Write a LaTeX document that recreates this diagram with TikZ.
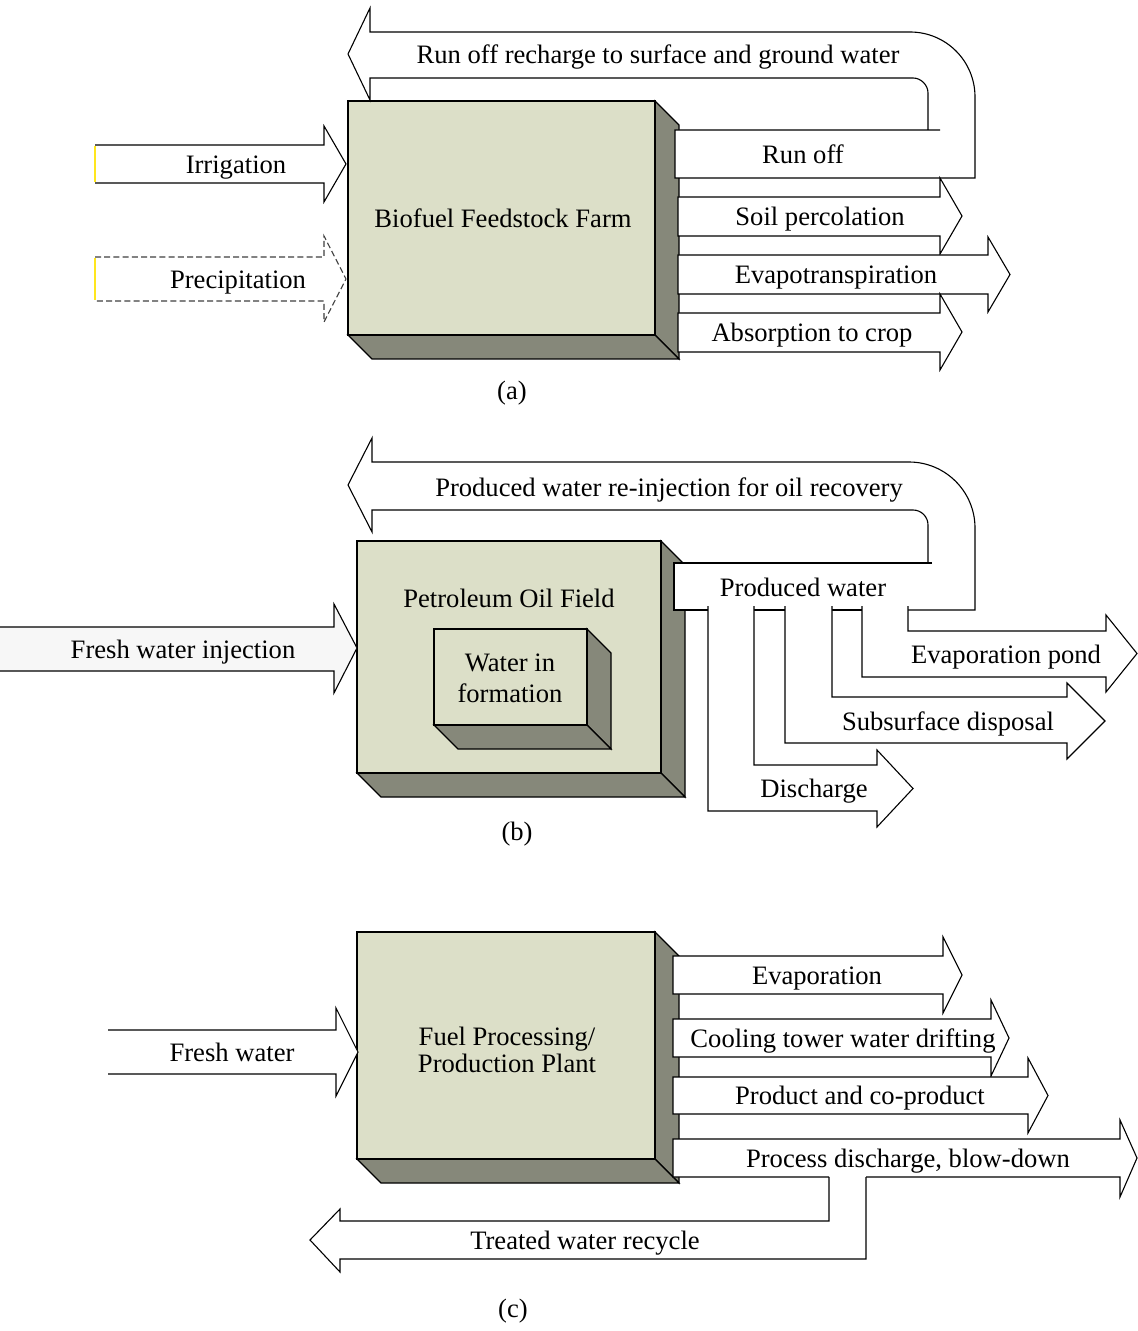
\documentclass[tikz,border=0pt]{standalone}
\usepackage{fontspec}
\setmainfont{Liberation Serif}
\definecolor{boxfront}{RGB}{220,223,200}
\definecolor{boxdark}{RGB}{134,136,122}
\definecolor{edgeyel}{RGB}{255,230,30}
\newcommand{\lblfont}{\fontsize{13.3}{15.5}\selectfont}
\tikzset{
  frontface/.style={fill=boxfront, draw=black, line width=0.6pt, line join=miter},
  darkface/.style={fill=boxdark, draw=black, line width=0.6pt, line join=miter},
  flowline/.style={draw=black, line width=0.55pt, line join=miter},
  flowfill/.style={fill=white},
  lbl/.style={inner sep=0pt, font=\lblfont, text height=0.69em, text depth=0.22em, yshift=-2.3pt},
}
% solid box: front x1,y1,x2,y2 ; depth 24
\newcommand{\solidbox}[5]{%
  \filldraw[darkface] (#3,#2) -- ({#3+24},{#2+24}) -- ({#3+24},{#4+24}) -- (#3,#4) -- cycle;
  \filldraw[darkface] (#1,#4) -- ({#1+24},{#4+24}) -- ({#3+24},{#4+24}) -- (#3,#4) -- cycle;
  \filldraw[#5] (#1,#2) rectangle (#3,#4);}
% closed right block arrow: left, base, tip, bodytop, bodybot, headtop, headbot
\newcommand{\rarrowC}[7]{%
  \filldraw[flowfill, flowline] (#1,#4) -- (#2,#4) -- (#2,#6) -- (#3,{(#6+#7)/2}) -- (#2,#7) -- (#2,#5) -- (#1,#5) -- cycle;}
\begin{document}
\begin{tikzpicture}[x=0.5pt,y=-0.5pt]
\useasboundingbox (0,0) rectangle (1138,1331);
\fill[white] (0,0) rectangle (1138,1331);

% ================= (a) =================
\solidbox{348}{101}{655}{335}{frontface}
\node[lbl] (farm) at (503,218) {Biofuel Feedstock Farm};

% U-turn arrow and run off
\fill[white] (975,178) -- (975,97) .. controls (975,61) and (946,32) .. (910,32) -- (370,32) -- (370,8) -- (348,54) -- (370,100) -- (370,78) -- (913,78) .. controls (921,78) and (928,85) .. (928,93) -- (928,130) -- (675,130) -- (675,178) -- cycle;
\draw[flowline] (928,130) -- (928,93) .. controls (928,85) and (921,78) .. (913,78) -- (370,78) -- (370,100) -- (348,54) -- (370,8) -- (370,32) -- (910,32) .. controls (946,32) and (975,61) .. (975,97) -- (975,178) -- (675,178) -- (675,130) -- (940,130);

% inputs
\fill[white] (95,145) -- (324,145) -- (324,126) -- (346,164) -- (324,202) -- (324,183) -- (95,183) -- cycle;
\draw[flowline] (95,145) -- (324,145) -- (324,126) -- (346,164) -- (324,202) -- (324,183) -- (95,183);
\draw[edgeyel, line width=0.6pt] (95,146) -- (95,182);
\fill[white] (95,257) -- (324,257) -- (324,236) -- (346,279) -- (324,322) -- (324,301) -- (95,301) -- cycle;
\draw[flowline, draw=black!75, dash pattern=on 3pt off 1.6pt] (95,257) -- (324,257) -- (324,236) -- (346,279) -- (324,322) -- (324,301) -- (95,301);
\draw[edgeyel, line width=0.6pt] (95,258) -- (95,300);

% outputs
\rarrowC{678}{940}{962}{197}{236}{178}{254}
\rarrowC{678}{988}{1010}{255}{294}{237}{312}
\rarrowC{678}{940}{962}{313}{352}{294}{370}

\node[lbl] (irr) at (236,164) {Irrigation};
\node[lbl] (prec) at (238,279) {Precipitation};
\node[lbl] (runoffrech) at (658,54) {Run off recharge to surface and ground water};
\node[lbl] (runoff) at (803,154) {Run off};
\node[lbl] (soil) at (820,216) {Soil percolation};
\node[lbl] (evt) at (836,274) {Evapotranspiration};
\node[lbl] (abs) at (812,332) {Absorption to crop};
\node[lbl] (capa) at (512,390) {(a)};

% ================= (b) =================
\solidbox{357}{541}{661}{773}{frontface}
\solidbox{434}{629}{587}{725}{frontface}

\fill[white] (975,610) -- (975,528) .. controls (975,491.6) and (945.4,462) .. (909,462) -- (372,462) -- (372,438) -- (348,485) -- (372,532) -- (372,510) -- (913,510) .. controls (921.3,510) and (928,516.7) .. (928,525) -- (928,563) -- (674,563) -- (674,610) -- cycle;
\draw[flowline] (928,563) -- (928,525) .. controls (928,516.7) and (921.3,510) .. (913,510) -- (372,510) -- (372,532) -- (348,485) -- (372,438) -- (372,462) -- (909,462) .. controls (945.4,462) and (975,491.6) .. (975,528) -- (975,610) -- (908,610);
\draw[flowline] (932,563) -- (674,563) -- (674,610) -- (708,610);
\draw[flowline] (754,610) -- (785,610);
\draw[flowline] (832,610) -- (862,610);

% fresh water injection
\fill[black!3] (0,627) -- (334,627) -- (334,604) -- (357,648) -- (334,693) -- (334,671) -- (0,671) -- cycle;
\draw[flowline] (0,627) -- (334,627) -- (334,604) -- (357,648) -- (334,693) -- (334,671) -- (0,671);

% branches
\filldraw[flowfill, flowline] (708,606) -- (708,811) -- (877,811) -- (877,827) -- (913,788.5) -- (877,750) -- (877,765) -- (754,765) -- (754,606);
\fill[white] (709,606) rectangle (753,612);
\filldraw[flowfill, flowline] (785,606) -- (785,743) -- (1067,743) -- (1067,759) -- (1105,721) -- (1067,683) -- (1067,697) -- (832,697) -- (832,606);
\fill[white] (786,606) rectangle (831,612);
\filldraw[flowfill, flowline] (862,606) -- (862,677) -- (1106,677) -- (1106,692) -- (1137,653.5) -- (1106,615) -- (1106,631) -- (908,631) -- (908,606);
\fill[white] (863,606) rectangle (907,612);

\node[lbl] (oilfield) at (509,598) {Petroleum Oil Field};
\node[lbl] (win) at (510,662) {Water in};
\node[lbl] (wform) at (510,693) {formation};
\node[lbl] (fwi) at (183,649) {Fresh water injection};
\node[lbl] (reinj) at (669,487) {Produced water re-injection for oil recovery};
\node[lbl] (pw) at (803,587) {Produced water};
\node[lbl] (evpond) at (1006,654) {Evaporation pond};
\node[lbl] (subsurf) at (948,721) {Subsurface disposal};
\node[lbl] (disch) at (814,788) {Discharge};
\node[lbl] (capb) at (517,831) {(b)};

% ================= (c) =================
\solidbox{357}{932}{655}{1159}{frontface}
\node[lbl] (fuel1) at (507,1036) {Fuel Processing/};
\node[lbl] (fuel2) at (507,1063) {Production Plant};

\fill[white] (108,1030) -- (336,1030) -- (336,1008) -- (358,1052) -- (336,1096) -- (336,1074) -- (108,1074) -- cycle;
\draw[flowline] (108,1030) -- (336,1030) -- (336,1008) -- (358,1052) -- (336,1096) -- (336,1074) -- (108,1074);

\rarrowC{673}{943}{962}{956}{994}{937}{1013}
\rarrowC{673}{991}{1009}{1019}{1057}{1000}{1076}
\rarrowC{673}{1028}{1048}{1077}{1114}{1058}{1133}

% process discharge
\fill[white] (673,1139) -- (1120,1139) -- (1120,1120) -- (1137,1158) -- (1120,1197) -- (1120,1177) -- (673,1177) -- cycle;
\draw[flowline] (829,1177) -- (673,1177) -- (673,1139) -- (1120,1139) -- (1120,1120) -- (1137,1158) -- (1120,1197) -- (1120,1177) -- (866,1177);
% treated water recycle
\fill[white] (829,1177) -- (829,1221) -- (340,1221) -- (340,1209) -- (310,1240) -- (340,1272) -- (340,1259) -- (866,1259) -- (866,1177) -- cycle;
\draw[flowline] (829,1177) -- (829,1221) -- (340,1221) -- (340,1209) -- (310,1240) -- (340,1272) -- (340,1259) -- (866,1259) -- (866,1177);

\node[lbl] (fw) at (232,1052) {Fresh water};
\node[lbl] (evap) at (817,975) {Evaporation};
\node[lbl] (cool) at (843,1038) {Cooling tower water drifting};
\node[lbl] (prod) at (860,1095) {Product and co-product};
\node[lbl] (proc) at (908,1158) {Process discharge, blow-down};
\node[lbl] (treat) at (585,1240) {Treated water recycle};
\node[lbl] (capc) at (513,1308) {(c)};
\end{tikzpicture}
\end{document}
